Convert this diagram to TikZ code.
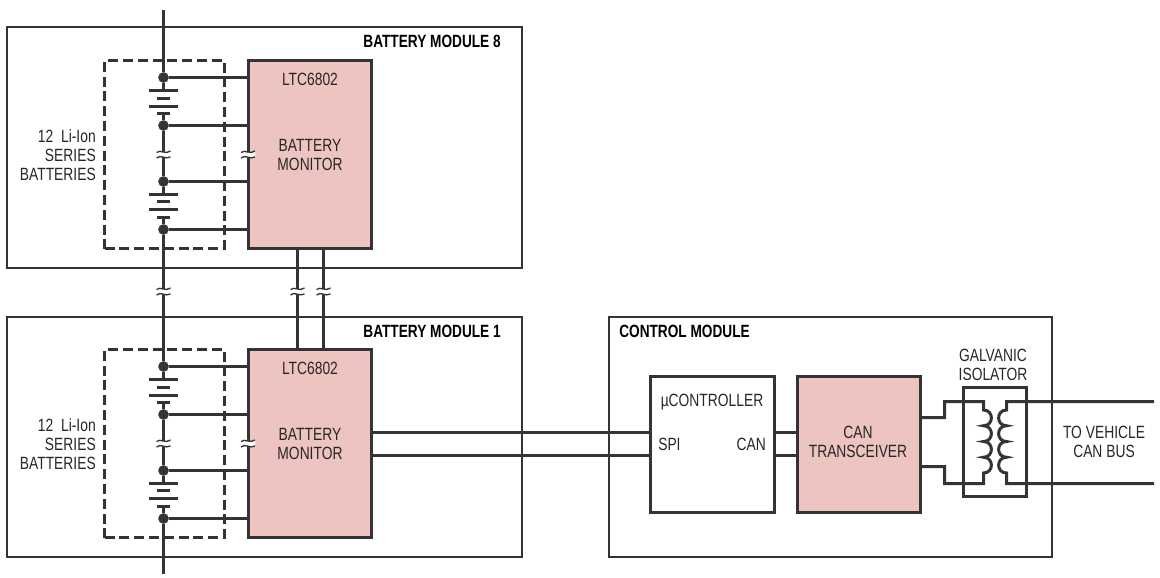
\documentclass[tikz,border=0pt]{standalone}
\usepackage{fontspec}
\setmainfont[FakeStretch=0.78,BoldFont={Liberation Sans Bold},BoldFeatures={FakeStretch=0.77}]{Liberation Sans}
\definecolor{ink}{HTML}{333338}
\definecolor{pinkfill}{HTML}{EDC4BF}
\tikzset{
  px/.style={x=0.75pt,y=-0.75pt},
  wire/.style={draw=ink,line width=2.25pt},
  thinbox/.style={draw=ink,line width=1.6pt,inner sep=0pt,outer sep=0pt,rectangle},
  chip/.style={draw=ink,line width=2.25pt,fill=pinkfill,inner sep=0pt,outer sep=0pt,rectangle,minimum width=92.25pt,minimum height=141pt},
  ubox/.style={draw=ink,line width=2.25pt,fill=white,inner sep=0pt,outer sep=0pt,rectangle},
  dashbox/.style={draw=ink,line width=2.25pt,dash pattern=on 7.5pt off 3.6pt,rectangle,inner sep=0pt,outer sep=0pt,minimum width=90pt,minimum height=141pt},
  dot/.style={circle,fill=ink,inner sep=0pt,minimum size=8pt,outer sep=0pt},
  label/.style={text=black!85,font=\fontsize{13.3}{14.25}\selectfont,inner sep=0pt,align=center},
  title/.style={text=black,font=\fontsize{13.3}{14.25}\selectfont\bfseries,inner sep=0pt},
  plate/.style={draw=ink,line width=2.25pt},
  brk/.pic={
    \fill[white] (-7,-2.5) .. controls (-3,-6) and (2,0) .. (7,-4) -- (7,2) .. controls (2,5) and (-3,-1) .. (-7,3) -- cycle;
    \draw[ink,line width=1pt] (-7,-2.5) .. controls (-3,-6) and (2,0) .. (7,-4);
    \draw[ink,line width=1pt] (-7,3) .. controls (-3,-1) and (2,5) .. (7,2);
  }
}
\begin{document}
\begin{tikzpicture}[px]
\useasboundingbox (0,0) rectangle (1160,578);
% outer boxes
\node[thinbox,minimum width=386.25pt,minimum height=180.75pt] (mod8) at (264.5,147.5) {};
\node[thinbox,minimum width=386.25pt,minimum height=180pt] (mod1) at (264.5,437) {};
\node[thinbox,minimum width=332.25pt,minimum height=180pt] (ctrl) at (830.5,437) {};
\node[title,anchor=east] (t8) at (501,41) {BATTERY MODULE 8};
\node[title,anchor=east] (t1) at (501,331) {BATTERY MODULE 1};
\node[title,anchor=west] (tc) at (619,331) {CONTROL MODULE};
% rails
\coordinate (railtop) at (163.5,10);
\coordinate (railbot) at (163.5,574);
\foreach \m/\d in {8/0,1/289}{
  \begin{scope}[yshift={-0.75pt*\d}]
  \node[dashbox] (dash\m) at (164.5,154.5) {};
  \node[dot] (ja\m) at (163.5,77.5) {};
  \node[dot] (jb\m) at (163.5,125.5) {};
  \node[dot] (jc\m) at (163.5,181.5) {};
  \node[dot] (jd\m) at (163.5,229.5) {};
  \node[chip] (ic\m) at (310,154.5) {};
  \draw[wire] (ja\m) -- (ja\m -| ic\m.west);
  \draw[wire] (jb\m) -- (jb\m -| ic\m.west);
  \draw[wire] (jc\m) -- (jc\m -| ic\m.west);
  \draw[wire] (jd\m) -- (jd\m -| ic\m.west);
  \coordinate (pa\m) at (163.5,90.5);
  \coordinate (pb\m) at (163.5,113.5);
  \coordinate (pc\m) at (163.5,194.5);
  \coordinate (pd\m) at (163.5,217.5);
  \draw[wire] (ja\m) -- (pa\m);
  \draw[wire] (pb\m) -- (jb\m) -- (jc\m) -- (pc\m);
  \draw[wire] (pd\m) -- (jd\m);
  \draw[plate] (149,90.5) -- (178,90.5) (157,98.5) -- (170,98.5) (149,106.5) -- (178,106.5) (157,113.5) -- (170,113.5);
  \draw[plate] (149,194.5) -- (178,194.5) (157,201.5) -- (170,201.5) (149,209.5) -- (178,209.5) (157,217.5) -- (170,217.5);
  \pic at (163.5,155) {brk};
  \pic at (248,155) {brk};
  \node[label] (name\m) at (310,79) {LTC6802};
  \node[label] (mon\m) at (310,154.5) {BATTERY\\MONITOR};
  \node[label,align=right,anchor=east] (cells\m) at (96,155) {12\hspace{3pt} Li-Ion\\SERIES\\BATTERIES};
  \end{scope}
}
\draw[wire] (railtop) -- (ja8);
\draw[wire] (jd8) -- (ja1);
\draw[wire] (jd1) -- (railbot);
\pic at (163.5,292) {brk};
% daisy chain
\coordinate (la8) at (297.5,248.5); \coordinate (la1) at (297.5,349.5);
\coordinate (lb8) at (323.5,248.5); \coordinate (lb1) at (323.5,349.5);
\draw[wire] (la8) -- (la1);
\draw[wire] (lb8) -- (lb1);
\pic at (297.5,292) {brk};
\pic at (323.5,292) {brk};
% control module
\node[ubox,minimum width=93pt,minimum height=102pt] (uc) at (712.5,444.5) {};
\node[chip,minimum height=102pt] (can) at (859,444.5) {};
\draw[wire] (371.5,432.5) coordinate (s1) -- (s1 -| uc.west);
\draw[wire] (371.5,455.5) coordinate (s2) -- (s2 -| uc.west);
\draw[wire] (uc.east |- s1) -- (can.west |- s1);
\draw[wire] (uc.east |- s2) -- (can.west |- s2);
\node[label,anchor=base] (uct) at (712,406.5) {µCONTROLLER};
\node[label,anchor=west] (spi) at (658,444) {SPI};
\node[label,anchor=east] (cant) at (766,444) {CAN};
\node[label] (cantx) at (858,441.5) {CAN\\TRANSCEIVER};
% isolator
\node[rectangle,draw=ink,line width=2.25pt,inner sep=0pt,minimum width=47.25pt,minimum height=81.75pt] (iso) at (995,442) {};
\node[label] (gal) at (993,364.5) {GALVANIC\\ISOLATOR};
\node[label] (veh) at (1104,441.5) {TO VEHICLE\\CAN BUS};
\coordinate (outa) at (1154,401.5);
\coordinate (outb) at (1154,483.5);
\draw[wire] (can.east |- 0,417.5) -- (944.5,417.5) -- (944.5,401.5) -- (983.5,401.5) -- (983.5,410)
  .. controls (994,410) and (994,425.75) .. (983.5,425.75)
  .. controls (994,425.75) and (994,441.5) .. (983.5,441.5)
  .. controls (994,441.5) and (994,457.25) .. (983.5,457.25)
  .. controls (994,457.25) and (994,473) .. (983.5,473)
  -- (983.5,483.5) -- (944.5,483.5) -- (944.5,466.5) -- (can.east |- 0,466.5);
\draw[wire] (outa) -- (1006.5,401.5) -- (1006.5,410)
  .. controls (996,410) and (996,425.75) .. (1006.5,425.75)
  .. controls (996,425.75) and (996,441.5) .. (1006.5,441.5)
  .. controls (996,441.5) and (996,457.25) .. (1006.5,457.25)
  .. controls (996,457.25) and (996,473) .. (1006.5,473)
  -- (1006.5,483.5) -- (outb);
\end{tikzpicture}
\end{document}
